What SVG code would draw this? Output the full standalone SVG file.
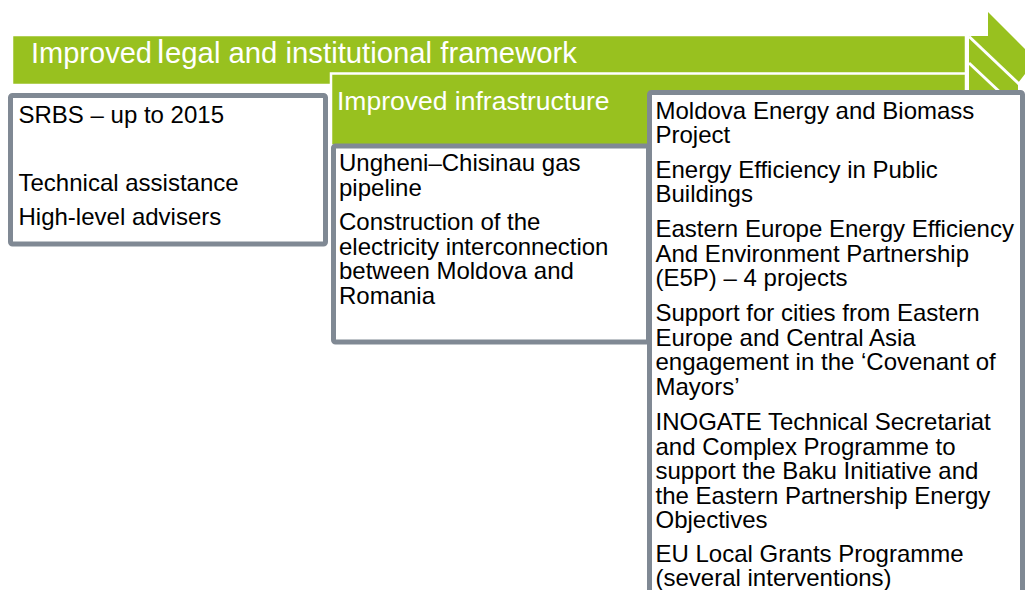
<svg xmlns="http://www.w3.org/2000/svg" width="1025" height="590" viewBox="0 0 1025 590">
  <style>
    .bar { fill: #98C11F; stroke: #FFFFFF; stroke-width: 2.5; }
    .sep { stroke: #FFFFFF; stroke-width: 3; fill: none; }
    .box { fill: #FFFFFF; stroke: #808994; stroke-width: 5; }
    .title { font-family: "Liberation Sans", Arial, sans-serif; fill: #FFFFFF; }
    .body { font-family: "Liberation Sans", Arial, sans-serif; font-size: 24px; fill: #000000; }
  </style>
  <rect width="1025" height="590" fill="#FFFFFF"/>

  <g id="bar-legal">
    <rect class="bar" x="12" y="35" width="954" height="50"/>
    <polygon fill="#98C11F" points="969,36 988,36 988,12 1036,60 1018,83 1018,96 969,96"/>
    <line class="sep" x1="967.5" y1="34" x2="967.5" y2="96"/>
    <line class="sep" x1="969" y1="36.5" x2="1019" y2="84"/>
    <line class="sep" x1="969" y1="63" x2="1003" y2="95"/>
    <text class="title" font-size="29" x="31" y="63">Improved </text>
    <text class="title" font-size="33" x="157" y="63">l</text>
    <text class="title" font-size="29.3" x="165" y="63">egal and institutional framework</text>
  </g>

  <g id="bar-infrastructure">
    <rect class="bar" x="331" y="73.5" width="635" height="72"/>
    <text class="title" font-size="26.5" x="337" y="110">Improved infrastructure</text>
  </g>

  <g id="box-legal">
    <rect class="box" x="10.5" y="95.5" width="315" height="148.5" rx="2"/>
    <text class="body" x="18.5" y="123">SRBS – up to 2015</text>
    <text class="body" x="18.5" y="191">Technical assistance</text>
    <text class="body" x="18.5" y="225">High-level advisers</text>
  </g>

  <g id="box-infrastructure">
    <rect class="box" x="333.5" y="146" width="315" height="196" rx="2"/>
    <text class="body" x="339" y="171">Ungheni–Chisinau gas</text>
    <text class="body" x="339" y="195.5">pipeline</text>
    <text class="body" x="339" y="230">Construction of the</text>
    <text class="body" x="339" y="254.5">electricity interconnection</text>
    <text class="body" x="339" y="279">between Moldova and</text>
    <text class="body" x="339" y="303.5">Romania</text>
  </g>

  <g id="box-energy">
    <rect class="box" x="649.5" y="92.5" width="373" height="520" rx="2"/>
    <text class="body" x="655.5" y="118.5">Moldova Energy and Biomass</text>
    <text class="body" x="655.5" y="143">Project</text>
    <text class="body" x="655.5" y="177.5">Energy Efficiency in Public</text>
    <text class="body" x="655.5" y="202">Buildings</text>
    <text class="body" x="655.5" y="237">Eastern Europe Energy Efficiency</text>
    <text class="body" x="655.5" y="261.5">And Environment Partnership</text>
    <text class="body" x="655.5" y="286">(E5P) – 4 projects</text>
    <text class="body" x="655.5" y="321">Support for cities from Eastern</text>
    <text class="body" x="655.5" y="345.5">Europe and Central Asia</text>
    <text class="body" x="655.5" y="370">engagement in the ‘Covenant of</text>
    <text class="body" x="655.5" y="394.5">Mayors’</text>
    <text class="body" x="655.5" y="430">INOGATE Technical Secretariat</text>
    <text class="body" x="655.5" y="454.5">and Complex Programme to</text>
    <text class="body" x="655.5" y="479">support the Baku Initiative and</text>
    <text class="body" x="655.5" y="503.5">the Eastern Partnership Energy</text>
    <text class="body" x="655.5" y="528">Objectives</text>
    <text class="body" x="655.5" y="561.5">EU Local Grants Programme</text>
    <text class="body" x="655.5" y="586">(several interventions)</text>
  </g>

  <g id="connectors"/>
</svg>
